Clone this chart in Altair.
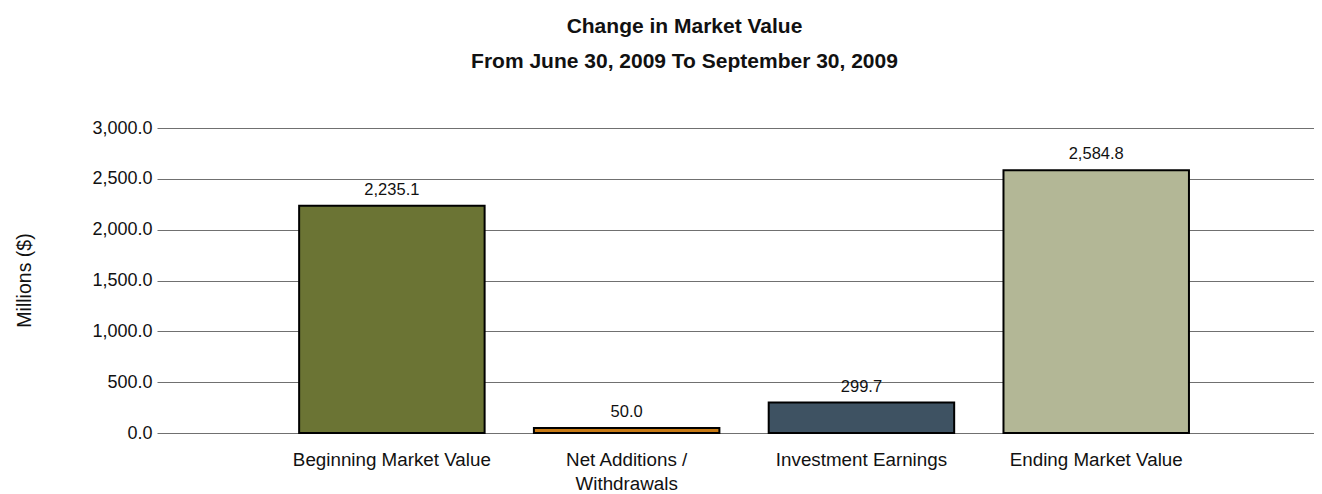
import altair as alt
import pandas as pd

categories = ["Beginning Market Value", "Net Additions / Withdrawals",
              "Investment Earnings", "Ending Market Value"]
values = [2235.1, 50.0, 299.7, 2584.8]
colors = ["#6B7434", "#C87A14", "#3E5262", "#B3B796"]

df = pd.DataFrame({"category": categories, "value": values, "color": colors})

FONT = "Liberation Sans"

x = alt.X("category:N", sort=categories, title=None,
          scale=alt.Scale(paddingInner=0.21, paddingOuter=0.569, align=0.532),
          axis=alt.Axis(labelAngle=0, labelFontSize=18.8, labelColor="#111111",
                        labelFont=FONT, ticks=False, domain=False, labelPadding=17,
                        labelLineHeight=24, labelLimit=0,
                        labelExpr="datum.label == 'Net Additions / Withdrawals' ? ['Net Additions /', 'Withdrawals'] : datum.label"))
y = alt.Y("value:Q", title="Millions ($)",
          scale=alt.Scale(domain=[0, 3000], nice=False),
          axis=alt.Axis(values=[0, 500, 1000, 1500, 2000, 2500, 3000], format=",.1f",
                        labelFontSize=18, labelFont=FONT, labelColor="#111111",
                        ticks=False, domain=False, labelPadding=5,
                        grid=True, gridColor="#707070", gridWidth=1,
                        titleFontSize=19.5, titleFont=FONT, titleFontWeight="normal",
                        titleColor="#111111", titleAngle=-90, titleX=-133, titleY=152,
                        titleAlign="center", titleBaseline="middle"))

bars = alt.Chart(df).mark_bar(stroke="black", strokeWidth=2).encode(
    x=x, y=y, color=alt.Color("color:N", scale=None)
)
labels = alt.Chart(df).mark_text(fontSize=16.5, font=FONT, color="#111111",
                                  baseline="alphabetic", dy=-11).encode(
    x=alt.X("category:N", sort=categories),
    y="value:Q",
    text=alt.Text("value:Q", format=",.1f"),
)

chart = alt.layer(bars, labels).properties(
    width=1157, height=305,
    title=alt.TitleParams(text=["Change in Market Value", "From June 30, 2009 To September 30, 2009"],
                          fontSize=21, font=FONT, fontWeight="bold", color="#111111",
                          anchor="middle", lineHeight=35, offset=47, dx=-51),
    autosize=alt.AutoSizeParams(type="none"),
    padding={"left": 149, "top": 120, "right": 0, "bottom": 61},
).configure_view(stroke=None)

chart.save("out.html", embed_options={"renderer": "svg", "actions": False})
